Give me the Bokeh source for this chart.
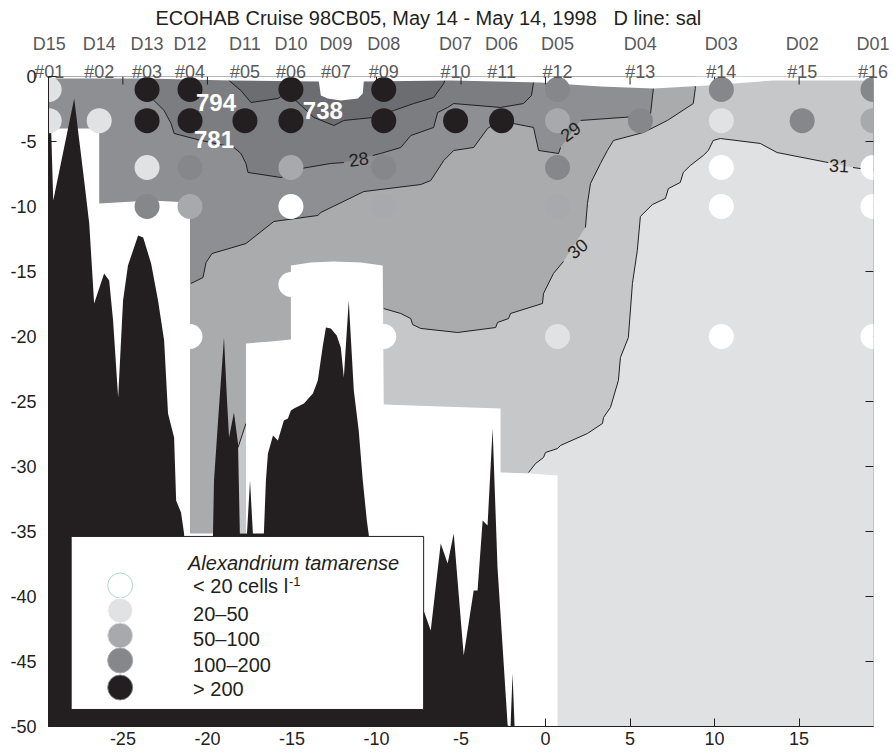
from bokeh.plotting import figure
from bokeh.models import Range1d, FixedTicker, LinearAxis, ColumnDataSource
from bokeh.core.properties import value
from bokeh.embed import file_html
from bokeh.resources import INLINE

FONT = "Liberation Sans"
INK = "#231f20"
GREY_TXT = "#58595b"

NB = "\u00a0"
title_text = "ECOHAB Cruise 98CB05, May 14 - May 14, 1998" + NB * 3 + "D line: sal"

# ---- stations (distance along section, km) ----
station_names = ["D15", "D14", "D13", "D12", "D11", "D10", "D09", "D08",
                 "D07", "D06", "D05", "D04", "D03", "D02", "D01"]
cast_names = ["#01", "#02", "#03", "#04", "#05", "#06", "#07", "#09",
              "#10", "#11", "#12", "#13", "#14", "#15", "#16"]
station_km = [-29.36, -26.40, -23.57, -21.03, -17.78, -15.06, -12.40, -9.57,
              -5.32, -2.60, 0.71, 5.61, 10.40, 15.18, 19.37]

x_ticks = [-25, -20, -15, -10, -5, 0, 5, 10, 15]
y_ticks = [0, -5, -10, -15, -20, -25, -30, -35, -40, -45, -50]

# ---- Alexandrium samples: station, depth (m), abundance class ----
sample_station = ["D15", "D15", "D14",
                  "D13", "D13", "D13", "D13",
                  "D12", "D12", "D12", "D12", "D12",
                  "D11",
                  "D10", "D10", "D10", "D10", "D10",
                  "D08", "D08", "D08", "D08", "D08",
                  "D07", "D06",
                  "D05", "D05", "D05", "D05", "D05",
                  "D04",
                  "D03", "D03", "D03", "D03", "D03",
                  "D02",
                  "D01", "D01", "D01", "D01", "D01"]
sample_depth = [-1, -3.4, -3.4,
                -1, -3.4, -7, -10,
                -1, -3.4, -7, -10, -20,
                -3.4,
                -1, -3.4, -7, -10, -16,
                -1, -3.4, -7, -10, -20,
                -3.4, -3.4,
                -1, -3.4, -7, -10, -20,
                -3.4,
                -1, -3.4, -7, -10, -20,
                -3.4,
                -1, -3.4, -7, -10, -20]
sample_class = [1, 1, 1,
                4, 4, 1, 3,
                4, 4, 3, 2, 0,
                4,
                4, 4, 2, 0, 0,
                4, 4, 3, 2, 0,
                4, 4,
                3, 2, 3, 2, 1,
                3,
                3, 1, 0, 0, 0,
                3,
                3, 2, 0, 0, 0]

class_labels = ["< 20 cells l", "20\u201350", "50\u2013100", "100\u2013200", "> 200"]
class_colors = ["#ffffff", "#e1e2e4", "#a7a9ac", "#86878a", "#231f20"]

count_text = ["794", "781", "738"]
count_km = [-19.49, -19.61, -13.17]
count_depth = [-2.0, -4.85, -2.62]

# ---- salinity bands ----
band_colors = ["#6c6d70", "#7c7d80", "#8e8f92", "#aaabad", "#c6c7c9", "#e0e1e3"]  # <27,27-28,28-29,29-30,30-31,>31

# ---- digitised salinity isolines (km, depth) ----
c27_km = [-18.72, -18.72, -18.02, -17.42, -15.83, -15.06, -14.77, -13.70, -12.52, -11.93,
          -10.16, -8.98, -7.80, -6.62, -6.02, -5.90]
c27_depth = [0.0, -0.31, -1.08, -2.0, -1.69, -1.08, -1.85, -3.15, -3.77, -3.38,
             -3.15, -2.62, -2.08, -1.62, -0.54, 0.0]

c28_km = [-23.74, -23.33, -22.56, -22.15, -21.97, -20.38, -18.43, -18.02, -17.72, -17.60,
          -15.65, -14.47, -12.70, -11.93, -10.22, -9.75, -8.56, -7.97, -6.62, -6.38,
          -5.79, -5.43, -2.66, -1.30, -0.83, -0.71, -0.71]
c28_depth = [0.0, -1.62, -2.62, -3.62, -4.38, -4.92, -5.46, -5.92, -6.69, -7.38,
             -7.77, -7.08, -6.69, -6.62, -6.08, -5.92, -5.46, -4.54, -3.92, -2.77,
             -2.38, -2.08, -2.38, -2.08, -1.46, -0.46, 0.0]
c28_gap = 13

c29_km = [6.38, 6.38, 6.20, 2.07, 0.89, 0.77, -0.41, -0.71, -1.89, -2.66,
          -3.43, -4.25, -5.43, -6.02, -6.79, -7.38, -10.75, -13.29, -13.47, -16.07,
          -17.72, -19.73, -20.08, -20.26, -20.97]
c29_depth = [0.0, -0.92, -3.0, -3.38, -5.46, -5.92, -5.69, -3.92, -3.62, -3.38,
             -4.0, -5.46, -5.69, -6.46, -8.0, -8.31, -8.85, -10.46, -10.69, -11.15,
             -12.85, -13.62, -14.31, -15.46, -15.92]
c29_gap = 3

c30_km = [8.86, 8.86, 8.74, 7.21, 5.79, 4.02, 3.66, 3.25, 2.66, 2.48,
          2.36, 1.06, 0.47, -0.12, -0.18, -2.07, -2.19, -2.84, -2.95, -5.20,
          -7.38, -7.86, -7.97, -8.56, -9.57]
c30_depth = [0.0, -0.92, -2.08, -3.38, -4.31, -4.92, -5.69, -6.69, -8.23, -9.77,
             -11.62, -14.23, -15.15, -16.69, -17.46, -18.23, -18.62, -18.92, -19.31, -19.69,
             -19.38, -19.08, -18.62, -18.23, -17.85]
c30_gap = 10
c30b_km = [-17.72, -18.19]
c30b_depth = [-26.69, -28.54]

c31_km = [19.5, 18.61, 18.19, 16.72, 13.70, 12.70, 10.34, 9.92, 9.63, 9.33,
          8.56, 8.15, 7.97, 7.27, 7.09, 6.32, 5.61, 5.43, 5.14, 4.90,
          4.43, 4.31, 3.84, 3.43, 3.37, 2.48, 0.89, 0.71, 0.0, -0.12,
          -0.59, -1.00]
c31_depth = [-7.23, -7.08, -7.0, -6.62, -5.85, -5.15, -4.77, -4.92, -5.69, -6.08,
             -6.85, -7.38, -8.15, -8.62, -9.38, -9.85, -10.77, -13.38, -15.92, -20.08,
             -21.62, -23.38, -25.46, -26.23, -26.69, -27.46, -28.38, -28.62, -28.92, -29.31,
             -29.77, -30.46]
c31_gap = 2

iso_text = ["28", "29", "30", "31"]
iso_km = [-11.05, 1.48, 1.89, 17.37]
iso_depth = [-6.35, -4.23, -13.23, -6.85]
iso_angle = [8, 36, 40, -3]

# ---- sampled-area outline (top edge and lower edge) ----
top_edge_km = [19.37, 13.47, 9.57, 6.38, 3.25, -0.30, -5.61, -10.75, -10.81, -11.10,
               -12.11, -12.88, -13.29, -13.41, -18.61, -23.74, -29.36]
top_edge_depth = [-0.31, -0.31, -0.69, -0.92, -0.77, -0.46, -0.31, -0.38, -1.31, -1.69,
                  -1.85, -1.69, -1.46, -0.38, -0.31, -0.15, -0.15]
low_edge_km = [-29.36, -26.40, -26.40, -23.33, -21.03, -21.03, -17.72, -17.72, -16.24, -15.06,
               -15.06, -13.88, -12.52, -10.93, -9.63, -9.57, -6.20, -2.66, -2.66, -0.89, 0.71, 0.71]
low_edge_depth = [-4.0, -4.0, -9.77, -9.54, -9.69, -35.15, -35.15, -20.54, -20.38, -20.23,
                  -14.54, -14.31, -14.23, -14.31, -14.54, -25.23, -25.38, -25.54, -30.46, -30.54, -30.69, -50.0]

# ---- bottom profile ----
bottom_km = [-29.50, -29.50, -29.24, -29.12, -27.88, -27.58, -27.29, -26.99, -26.70, -26.11,
             -25.81, -25.58, -25.28, -24.99, -24.70, -24.10, -23.80, -23.33, -22.92, -22.56,
             -22.33, -21.97, -21.85, -21.56, -21.38, -21.26, -19.79, -19.67, -19.61, -19.37,
             -19.02, -18.84, -18.72, -18.43, -18.19, -18.08, -17.66, -17.48, -17.31, -16.66,
             -16.54, -16.42, -16.12, -15.83, -15.48, -15.24, -15.06, -14.88, -14.29, -13.76,
             -13.47, -13.17, -12.99, -12.70, -12.35, -12.11, -11.93, -11.64, -11.34, -11.05,
             -10.81, -10.57, -10.45, -10.04, -7.21, -6.79, -6.20, -5.79, -5.43, -4.84,
             -4.25, -4.02, -3.72, -3.43, -3.13, -2.84, -2.24, -2.07, -1.95, -1.83,
             -1.83, -29.50]
bottom_depth = [-50.5, -4.0, -4.15, -9.54, -1.69, -4.92, -8.0, -11.31, -17.46, -15.15,
                -15.69, -18.77, -24.69, -17.23, -14.54, -12.23, -12.38, -14.38, -17.23, -20.31,
                -25.92, -27.77, -32.62, -33.54, -35.15, -40.31, -40.31, -35.15, -31.08, -26.46,
                -20.08, -24.92, -27.77, -25.85, -28.23, -35.15, -35.15, -31.08, -35.15, -35.15,
                -31.08, -29.0, -27.62, -28.0, -26.46, -26.31, -25.69, -25.54, -25.15, -24.38,
                -23.38, -20.69, -19.31, -19.38, -19.92, -20.85, -23.15, -17.23, -24.15, -27.23,
                -31.08, -34.15, -35.31, -40.31, -41.08, -42.62, -35.92, -37.46, -35.15, -44.54,
                -39.54, -39.54, -34.15, -34.54, -27.08, -37.77, -49.92, -50.0, -45.92, -50.0,
                -50.5, -50.5]

# ---------------------------------------------------------------
XMIN, XMAX = -29.40, 19.40
YMIN, YMAX = -50, 0
p = figure(width=893, height=752, x_range=Range1d(XMIN, XMAX), y_range=Range1d(YMIN, YMAX),
           output_backend="svg", toolbar_location=None,
           min_border_left=48, min_border_right=20, min_border_top=76, min_border_bottom=26,
           background_fill_color="white", border_fill_color="white",
           outline_line_color=INK, outline_line_width=1)
p.grid.visible = False

p.title.text = title_text
p.title.align = "left"
p.title.offset = 107
p.title.standoff = 4
p.title.text_font = FONT
p.title.text_font_size = "20px"
p.title.text_font_style = "normal"
p.title.text_color = INK

for ax in p.xaxis:
    ax.ticker = FixedTicker(ticks=x_ticks)
    ax.major_tick_in = 8
    ax.major_tick_out = 0
    ax.minor_tick_line_color = None
    ax.axis_line_color = INK
    ax.major_tick_line_color = INK
    ax.major_label_text_font = FONT
    ax.major_label_text_font_size = "18px"
    ax.major_label_text_color = INK
    ax.major_label_standoff = 5
    ax.major_label_overrides = {t: str(t) for t in x_ticks}
for ax in p.yaxis:
    ax.ticker = FixedTicker(ticks=y_ticks)
    ax.major_tick_in = 8
    ax.major_tick_out = 0
    ax.minor_tick_line_color = None
    ax.axis_line_color = INK
    ax.major_tick_line_color = INK
    ax.major_label_text_font = FONT
    ax.major_label_text_font_size = "18px"
    ax.major_label_text_color = INK
    ax.major_label_standoff = 12
    ax.major_label_overrides = {t: str(t) for t in y_ticks}

# station labels above the frame: cast numbers (inner row) and station names (outer row)
cast_ax = LinearAxis(ticker=FixedTicker(ticks=station_km),
                     major_label_overrides=dict(zip(station_km, cast_names)),
                     major_tick_in=0, major_tick_out=0, major_tick_line_color=None,
                     minor_tick_line_color=None, axis_line_color=None,
                     major_label_standoff=-5, major_label_text_font=FONT,
                     major_label_text_font_size="18px", major_label_text_color=GREY_TXT)
p.add_layout(cast_ax, "above")
station_ax = LinearAxis(ticker=FixedTicker(ticks=station_km),
                        major_label_overrides=dict(zip(station_km, station_names)),
                        major_tick_in=0, major_tick_out=0, major_tick_line_color=None,
                        minor_tick_line_color=None, axis_line_color=None,
                        major_label_standoff=5, major_label_text_font=FONT,
                        major_label_text_font_size="18px", major_label_text_color=GREY_TXT)
p.add_layout(station_ax, "above")

# ---- salinity bands (painter order) ----
p.quad(left=[-31], right=[21], top=[1], bottom=[-51], fill_color=band_colors[2], line_color=None)
p.patch(c28_km + [-0.71, -23.74], c28_depth + [1, 1], fill_color=band_colors[1], line_color=None)
p.patch(c27_km + [-5.90, -18.72], c27_depth + [1, 1], fill_color=band_colors[0], line_color=None)
p.patch(c29_km + [-21.2, -21.2, 21, 21, 6.38], c29_depth + [-15.92, -51, -51, 1, 1],
        fill_color=band_colors[3], line_color=None)
p.patch(c30_km + [-9.7] + c30b_km + [-18.19, 21, 21, 8.86],
        c30_depth + [-17.9] + c30b_depth + [-51, -51, 1, 1],
        fill_color=band_colors[4], line_color=None)
p.patch(c31_km + [-1.0, 21, 21], c31_depth + [-51, -51, -7.23],
        fill_color=band_colors[5], line_color=None)

# ---- isolines with label gaps ----
seg_x, seg_y = [], []
def add_line(kms, dps, gap=None):
    if gap is None:
        seg_x.append(kms); seg_y.append(dps)
    else:
        seg_x.append(kms[:gap + 1]); seg_y.append(dps[:gap + 1])
        seg_x.append(kms[gap + 1:]); seg_y.append(dps[gap + 1:])
add_line(c27_km, c27_depth)
add_line(c28_km, c28_depth, c28_gap)
add_line(c29_km, c29_depth, c29_gap)
add_line(c30_km, c30_depth, c30_gap)
add_line(c30b_km, c30b_depth)
add_line(c31_km, c31_depth, c31_gap)
p.multi_line(seg_x, seg_y, line_color=INK, line_width=1)

# ---- unsampled area (white) ----
p.patch([-31, 21, 21] + top_edge_km + [-31], [1, 1, -0.31] + top_edge_depth + [-0.15],
        fill_color="white", line_color=None)
p.patch([-31] + low_edge_km + [0.71, -31], [-4.0] + low_edge_depth + [-51, -51],
        fill_color="white", line_color=None)

# ---- bottom ----
p.patch(bottom_km, bottom_depth, fill_color=INK, line_color=None)

# ---- inward ticks on top and right frame edges ----
tick_len_y = 8 / 13.0
tick_len_x = 8 / 16.9
p.segment(x0=x_ticks, y0=[YMAX] * len(x_ticks), x1=x_ticks, y1=[YMAX - tick_len_y] * len(x_ticks),
          line_color=INK, line_width=1)
p.segment(x0=[XMAX] * len(y_ticks), y0=y_ticks, x1=[XMAX - tick_len_x] * len(y_ticks), y1=y_ticks,
          line_color=INK, line_width=1)

# ---- samples ----
km_of = dict(zip(station_names, station_km))
src = ColumnDataSource(dict(x=[km_of[s] for s in sample_station], y=sample_depth,
                            c=[class_colors[k] for k in sample_class]))
p.scatter("x", "y", source=src, marker="circle", size=25, fill_color="c", line_color=None)

# isoline labels
p.text(iso_km, iso_depth, text=iso_text, angle=iso_angle, angle_units="deg",
       text_align="center", text_baseline="middle", text_font=value(FONT),
       text_font_size="18px", text_color=INK)
# high counts
p.text(count_km, count_depth, text=count_text, text_align="center", text_baseline="middle",
       text_font=value(FONT), text_font_size="24px", text_font_style="bold", text_color="white")

# ---- legend ----
p.quad(left=[-28.06], right=[-7.21], top=[-35.38], bottom=[-48.69],
       fill_color="white", line_color=INK, line_width=1)
leg_y = [-39.15, -41.08, -43.0, -44.92, -47.0]
p.scatter([-25.16] * 5, leg_y, marker="circle", size=25, fill_color=class_colors,
          line_color=["#a8dccb"] + class_colors, line_width=1)
p.text([-21.15], [-37.4], text=["Alexandrium tamarense"], text_align="left", text_baseline="middle",
       text_font=value(FONT), text_font_size="20px", text_font_style="italic", text_color=INK)
p.text([-20.85] * 5, [-39.2, -41.33, -43.25, -45.25, -47.1], text=class_labels, text_align="left",
       text_baseline="middle", text_font=value(FONT), text_font_size="20px", text_color=INK)
p.text([-15.18], [-38.85], text=["-1"], text_align="left", text_baseline="middle",
       text_font=value(FONT), text_font_size="13px", text_color=INK)

open("out.html", "w").write(file_html(p, INLINE))
